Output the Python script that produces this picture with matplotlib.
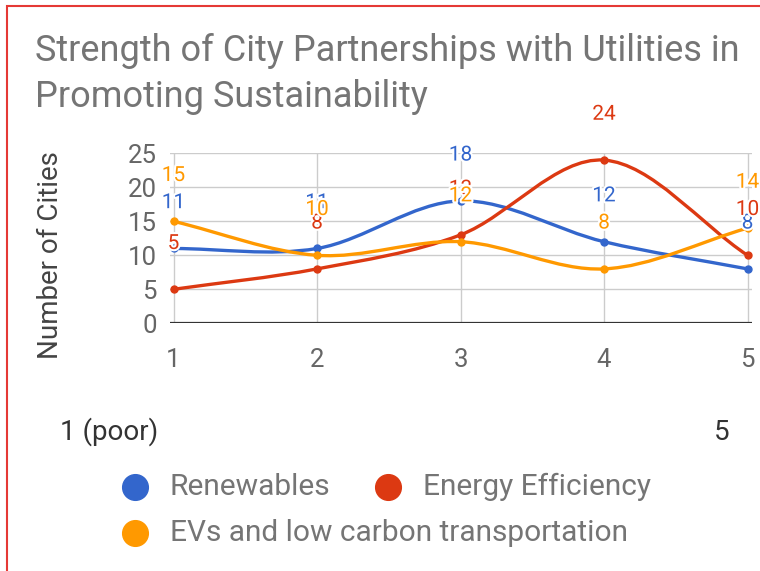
import matplotlib
matplotlib.use("Agg")
import matplotlib.pyplot as plt
import matplotlib.patheffects as pe
from matplotlib.path import Path
from matplotlib.patches import PathPatch
import numpy as np

plt.rcParams['font.family'] = ['Roboto', 'DejaVu Sans']

# ---- data ----
x_vals = [1, 2, 3, 4, 5]
series_names = ["Renewables", "Energy Efficiency", "EVs and low carbon transportation"]
renewables = [11, 11, 18, 12, 8]
energy_eff = [5, 8, 13, 24, 10]
evs = [15, 10, 12, 8, 14]
series_values = [renewables, energy_eff, evs]
series_colors = ["#3366cc", "#dc3912", "#ff9900"]
y_ticks = [0, 5, 10, 15, 20, 25]
title = "Strength of City Partnerships with Utilities in\nPromoting Sustainability"
y_label = "Number of Cities"
scale_low = "1 (poor)"
scale_high = "5"

W, H = 760, 571
fig = plt.figure(figsize=(W / 100, H / 100), dpi=100)

# plot area in pixels
px_left, px_right = 170, 752
px_top, px_bottom = 153.3, 323.3
ax = fig.add_axes([px_left / W, 1 - px_bottom / H, (px_right - px_left) / W, (px_bottom - px_top) / H])
unit = (747.5 - 173.5) / 4
ax.set_xlim(1 - (173.5 - px_left) / unit, 5 + (px_right - 747.5) / unit)
ax.set_ylim(0, 25)
for s in ax.spines.values():
    s.set_visible(False)
ax.set_xticks(x_vals)
ax.set_yticks(y_ticks)
ax.grid(True, color="#cccccc", linewidth=1.0)
ax.set_axisbelow(True)
ax.tick_params(length=0, labelsize=18.5, labelcolor="#666666")
ax.tick_params(axis='x', pad=17.5)
ax.tick_params(axis='y', pad=9.5)
ax.axhline(0, color="#333333", linewidth=1.6, zorder=2)


def smooth_path(xs, ys):
    pts = np.column_stack([xs, ys]).astype(float)
    n = len(pts)
    tang = []
    for i in range(n):
        if i == 0:
            t = pts[1] - pts[0]
        elif i == n - 1:
            t = pts[-1] - pts[-2]
        else:
            t = (pts[i + 1] - pts[i - 1]) / 2
        tang.append(t)
    verts = [pts[0]]
    codes = [Path.MOVETO]
    for i in range(n - 1):
        c1 = pts[i] + tang[i] / 3
        c2 = pts[i + 1] - tang[i + 1] / 3
        verts += [c1, c2, pts[i + 1]]
        codes += [Path.CURVE4] * 3
    return Path(verts, codes)


for k, (vals, col) in enumerate(zip(series_values, series_colors)):
    patch = PathPatch(smooth_path(x_vals, vals), facecolor="none", edgecolor=col,
                      linewidth=2.4, zorder=3 + k, capstyle="round")
    ax.add_patch(patch)
    ax.plot(x_vals, vals, "o", color=col, markersize=5, zorder=3 + k)

for k, (vals, col) in enumerate(zip(series_values, series_colors)):
    for xv, yv in zip(x_vals, vals):
        ax.annotate(str(yv), (xv, yv), xytext=(0, 33), textcoords="offset points",
                    ha="center", va="center", fontsize=15, color=col, zorder=10 + k,
                    annotation_clip=False,
                    path_effects=[pe.withStroke(linewidth=3, foreground="white")])

# title
fig.text(35 / W, 1 - 33 / H, title, ha="left", va="top", fontsize=26,
         color="#757575", linespacing=1.36)
# y label
fig.text(51 / W, 1 - 255 / H, y_label, rotation=90, ha="center", va="center",
         fontsize=20, color="#444444")
# scale labels
fig.text(60 / W, 1 - 432 / H, scale_low, ha="left", va="center", fontsize=20, color="#333333")
fig.text(722 / W, 1 - 432 / H, scale_high, ha="center", va="center", fontsize=20, color="#333333")

# legend (manual, Google style)
overlay = fig.add_axes([0, 0, 1, 1], facecolor="none")
overlay.set_xlim(0, W)
overlay.set_ylim(H, 0)
overlay.axis("off")
legend_pos = [(135, 487), (388, 487), (135, 533)]
for name, col, (lx, ly) in zip(series_names, series_colors, legend_pos):
    overlay.plot([lx], [ly], "o", color=col, markersize=18.5)
    overlay.text(lx + 35, ly, name, ha="left", va="center", fontsize=21.5, color="#757575")

# red frame (top and left)
overlay.plot([7, 7, W], [H, 6, 6], color="#e53935", linewidth=1.5, solid_joinstyle="miter")

fig.savefig("out.png", dpi=100, facecolor="white")
